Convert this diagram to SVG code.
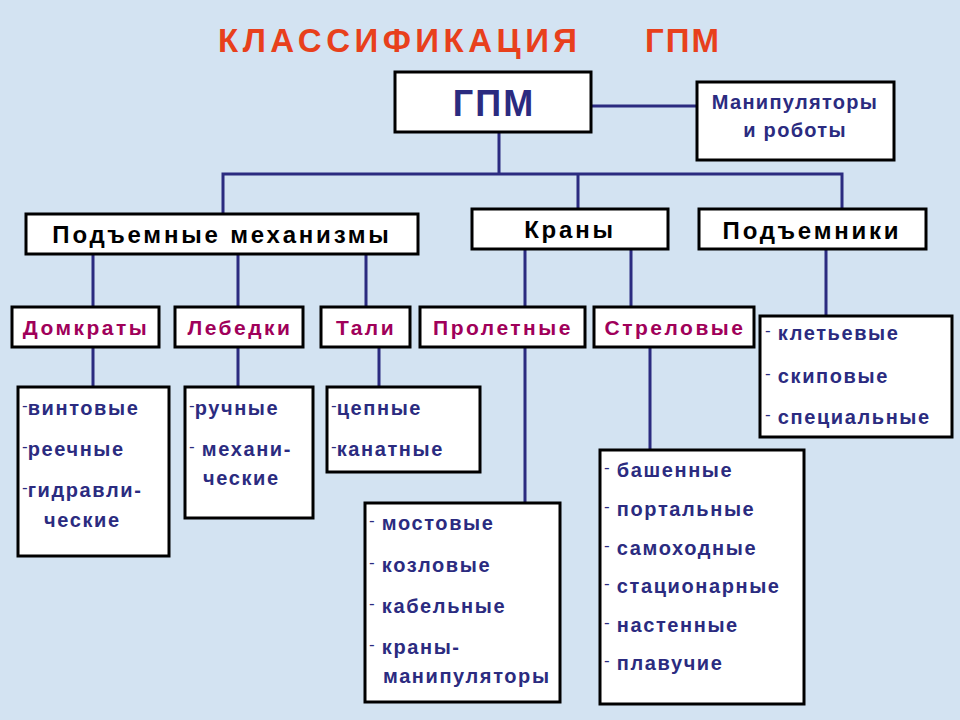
<svg xmlns="http://www.w3.org/2000/svg" width="960" height="720" viewBox="0 0 960 720">
<style>
.b{fill:#fff;stroke:#000;stroke-width:3}
.c{stroke:#2b2b80;stroke-width:3;fill:none}
text{font-family:"Liberation Sans",Arial,sans-serif;font-weight:bold}
.h1{font-size:24px;fill:#000;text-anchor:middle;letter-spacing:2.8px}
.h2{font-size:21px;fill:#a0005a;text-anchor:middle;letter-spacing:2.5px}
.li{font-size:20px;fill:#2b2b80;letter-spacing:1.6px}
.d{font-weight:normal;font-size:17px;letter-spacing:0}
</style>
<rect width="960" height="720" fill="#d3e3f2"/>
<text x="218" y="52" font-size="33" fill="#e8401c" letter-spacing="4.5">КЛАССИФИКАЦИЯ</text>
<text x="645" y="52" font-size="33" fill="#e8401c" letter-spacing="2">ГПМ</text>
<g id="connectors" class="c">
<path d="M591 106H697M499 132V174M223 214V174H842V209M578 174V209"/>
<path d="M93 254V307M238 254V307M366 254V307M525 249V307M631 249V307M826 249V316"/>
<path d="M93 347V387M238 347V387M379 347V387M525 347V503M650 347V450"/>
</g>
<g id="gpm"><rect class="b" x="395" y="72" width="196" height="60"/><text x="494" y="116" font-size="36" fill="#2b2b80" text-anchor="middle" letter-spacing="2">ГПМ</text></g>
<g id="manip"><rect class="b" x="697" y="82" width="197" height="78"/><text x="795" y="109" font-size="20" fill="#2b2b80" text-anchor="middle" letter-spacing="1.3">Манипуляторы</text><text x="795" y="137" font-size="20" fill="#2b2b80" text-anchor="middle" letter-spacing="1.3">и роботы</text></g>
<g id="pm"><rect class="b" x="26" y="214" width="392" height="40"/><text class="h1" x="222" y="243">Подъемные механизмы</text></g>
<g id="krany"><rect class="b" x="472" y="209" width="196" height="40"/><text class="h1" x="570" y="238">Краны</text></g>
<g id="podem"><rect class="b" x="699" y="209" width="227" height="40"/><text class="h1" x="812" y="239">Подъемники</text></g>
<g id="domk"><rect class="b" x="12" y="307" width="147" height="40"/><text class="h2" x="86" y="335">Домкраты</text></g>
<g id="lebed"><rect class="b" x="175" y="307" width="128" height="40"/><text class="h2" x="240" y="335">Лебедки</text></g>
<g id="tali"><rect class="b" x="321" y="307" width="89" height="40"/><text class="h2" x="366" y="335">Тали</text></g>
<g id="prolet"><rect class="b" x="420" y="307" width="165" height="40"/><text class="h2" x="503" y="335">Пролетные</text></g>
<g id="strel"><rect class="b" x="594" y="307" width="160" height="40"/><text class="h2" x="675" y="335">Стреловые</text></g>
<g id="podem-list"><rect class="b" x="760" y="316" width="192" height="121"/>
<text class="li" x="765" y="340"><tspan class="d" dy="-4">-</tspan><tspan dy="4"> клетьевые</tspan></text>
<text class="li" x="765" y="383"><tspan class="d" dy="-4">-</tspan><tspan dy="4"> скиповые</tspan></text>
<text class="li" x="765" y="424"><tspan class="d" dy="-4">-</tspan><tspan dy="4"> специальные</tspan></text></g>
<g id="domk-list"><rect class="b" x="18" y="387" width="151" height="169"/>
<text class="li" x="22" y="415"><tspan class="d" dy="-4">-</tspan><tspan dy="4">винтовые</tspan></text>
<text class="li" x="22" y="456"><tspan class="d" dy="-4">-</tspan><tspan dy="4">реечные</tspan></text>
<text class="li" x="22" y="497"><tspan class="d" dy="-4">-</tspan><tspan dy="4">гидравли-</tspan></text>
<text class="li" x="44" y="527">ческие</text></g>
<g id="lebed-list"><rect class="b" x="185" y="387" width="128" height="131"/>
<text class="li" x="189" y="415"><tspan class="d" dy="-4">-</tspan><tspan dy="4">ручные</tspan></text>
<text class="li" x="189" y="456"><tspan class="d" dy="-4">-</tspan><tspan dy="4"> механи-</tspan></text>
<text class="li" x="203" y="485">ческие</text></g>
<g id="tali-list"><rect class="b" x="327" y="387" width="153" height="85"/>
<text class="li" x="331" y="415"><tspan class="d" dy="-4">-</tspan><tspan dy="4">цепные</tspan></text>
<text class="li" x="331" y="456"><tspan class="d" dy="-4">-</tspan><tspan dy="4">канатные</tspan></text></g>
<g id="prolet-list"><rect class="b" x="365" y="503" width="195" height="199"/>
<text class="li" x="369" y="530"><tspan class="d" dy="-4">-</tspan><tspan dy="4"> мостовые</tspan></text>
<text class="li" x="369" y="572"><tspan class="d" dy="-4">-</tspan><tspan dy="4"> козловые</tspan></text>
<text class="li" x="369" y="613"><tspan class="d" dy="-4">-</tspan><tspan dy="4"> кабельные</tspan></text>
<text class="li" x="369" y="654"><tspan class="d" dy="-4">-</tspan><tspan dy="4"> краны-</tspan></text>
<text class="li" x="383" y="683">манипуляторы</text></g>
<g id="strel-list"><rect class="b" x="600" y="450" width="204" height="254"/>
<text class="li" x="604" y="477"><tspan class="d" dy="-4">-</tspan><tspan dy="4"> башенные</tspan></text>
<text class="li" x="604" y="516"><tspan class="d" dy="-4">-</tspan><tspan dy="4"> портальные</tspan></text>
<text class="li" x="604" y="555"><tspan class="d" dy="-4">-</tspan><tspan dy="4"> самоходные</tspan></text>
<text class="li" x="604" y="593"><tspan class="d" dy="-4">-</tspan><tspan dy="4"> стационарные</tspan></text>
<text class="li" x="604" y="632"><tspan class="d" dy="-4">-</tspan><tspan dy="4"> настенные</tspan></text>
<text class="li" x="604" y="670"><tspan class="d" dy="-4">-</tspan><tspan dy="4"> плавучие</tspan></text></g>
</svg>
